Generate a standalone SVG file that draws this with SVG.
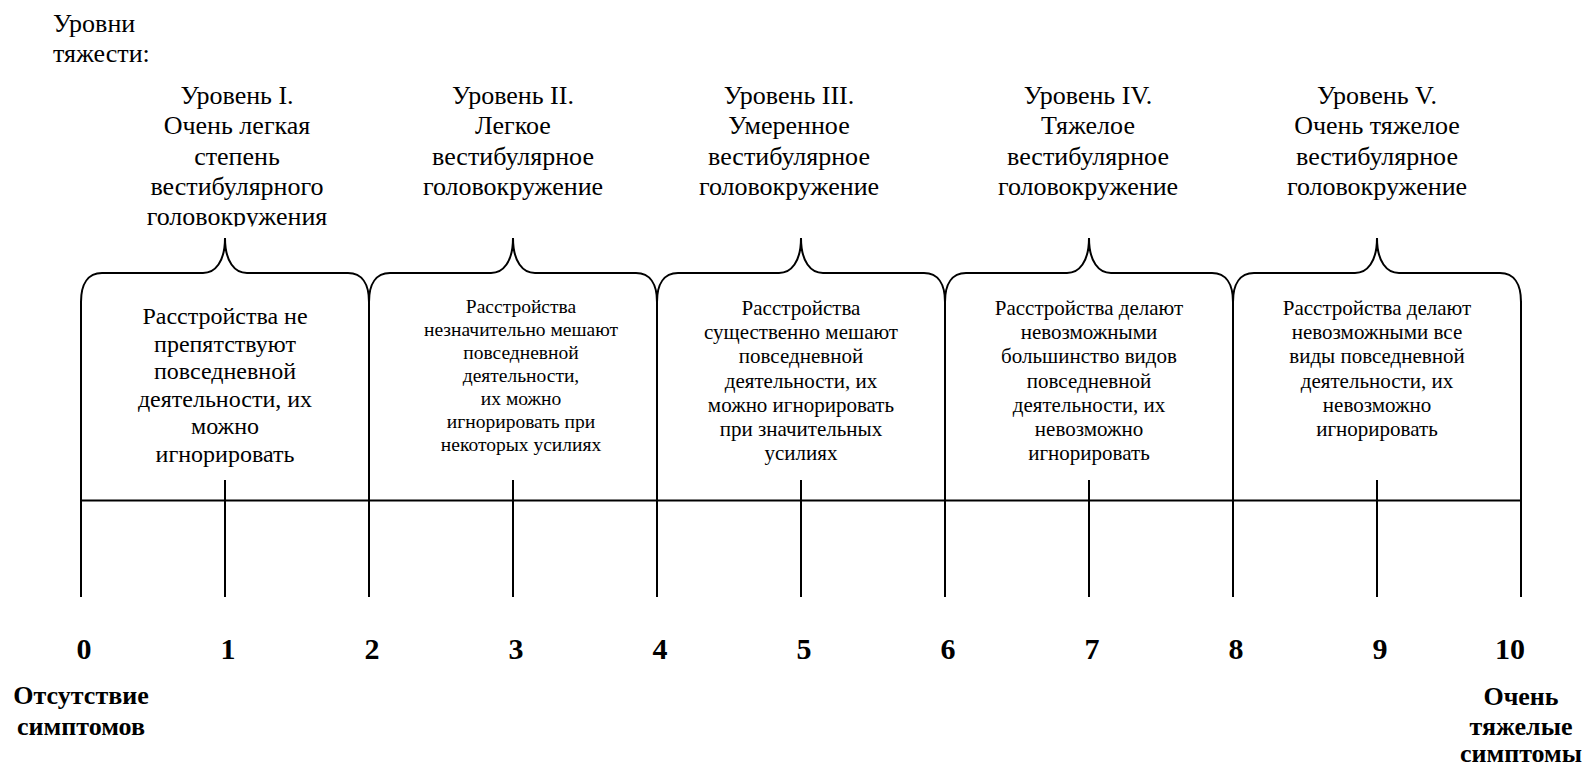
<svg xmlns="http://www.w3.org/2000/svg" width="1587" height="767" viewBox="0 0 1587 767">
<defs>
<style>
.t{font-family:"Liberation Serif","Times New Roman",serif;fill:#000}
.h{font-size:26px;text-anchor:middle}
.b1{font-size:24px;text-anchor:middle}
.b2{font-size:19.5px;text-anchor:middle}
.b3{font-size:21px;text-anchor:middle}
.num{font-size:30px;font-weight:bold;text-anchor:middle}
.lab{font-size:26px;font-weight:bold;text-anchor:middle}
.ln{fill:none;stroke:#000;stroke-width:2}
</style>
<clipPath id="clipH1"><rect x="100" y="70" width="300" height="156.5"/></clipPath>
</defs>
<rect width="1587" height="767" fill="#fff"/>

<text class="t" font-size="26" x="53" y="31.7">Уровни</text>
<text class="t" font-size="26" x="53" y="62">тяжести:</text>

<g id="level1">
<text class="t h" clip-path="url(#clipH1)"><tspan x="237" y="104">Уровень I.</tspan><tspan x="237" y="134.3">Очень легкая</tspan><tspan x="237" y="164.6">степень</tspan><tspan x="237" y="194.9">вестибулярного</tspan><tspan x="237" y="225.2">головокружения</tspan></text>
<path class="ln" d="M81,302 C81,284 88,273 102,273 H203 C215,273 225,262 225,238 C225,262 235,273 247,273 H348 C362,273 369,284 369,302"/>
<text class="t b1"><tspan x="225" y="324">Расстройства не</tspan><tspan x="225" y="351.5">препятствуют</tspan><tspan x="225" y="379">повседневной</tspan><tspan x="225" y="406.5">деятельности, их</tspan><tspan x="225" y="434">можно</tspan><tspan x="225" y="461.5">игнорировать</tspan></text>
</g>

<g id="level2">
<text class="t h"><tspan x="513" y="104">Уровень II.</tspan><tspan x="513" y="134.3">Легкое</tspan><tspan x="513" y="164.6">вестибулярное</tspan><tspan x="513" y="194.9">головокружение</tspan></text>
<path class="ln" d="M369,302 C369,284 376,273 390,273 H491 C503,273 513,262 513,238 C513,262 523,273 535,273 H636 C650,273 657,284 657,302"/>
<text class="t b2"><tspan x="521" y="313">Расстройства</tspan><tspan x="521" y="336">незначительно мешают</tspan><tspan x="521" y="359">повседневной</tspan><tspan x="521" y="382">деятельности,</tspan><tspan x="521" y="405">их можно</tspan><tspan x="521" y="428">игнорировать при</tspan><tspan x="521" y="451">некоторых усилиях</tspan></text>
</g>

<g id="level3">
<text class="t h"><tspan x="789" y="104">Уровень III.</tspan><tspan x="789" y="134.3">Умеренное</tspan><tspan x="789" y="164.6">вестибулярное</tspan><tspan x="789" y="194.9">головокружение</tspan></text>
<path class="ln" d="M657,302 C657,284 664,273 678,273 H779 C791,273 801,262 801,238 C801,262 811,273 823,273 H924 C938,273 945,284 945,302"/>
<text class="t b3"><tspan x="801" y="315">Расстройства</tspan><tspan x="801" y="339.2">существенно мешают</tspan><tspan x="801" y="363.4">повседневной</tspan><tspan x="801" y="387.6">деятельности, их</tspan><tspan x="801" y="411.8">можно игнорировать</tspan><tspan x="801" y="436">при значительных</tspan><tspan x="801" y="460.2">усилиях</tspan></text>
</g>

<g id="level4">
<text class="t h"><tspan x="1088" y="104">Уровень IV.</tspan><tspan x="1088" y="134.3">Тяжелое</tspan><tspan x="1088" y="164.6">вестибулярное</tspan><tspan x="1088" y="194.9">головокружение</tspan></text>
<path class="ln" d="M945,302 C945,284 952,273 966,273 H1067 C1079,273 1089,262 1089,238 C1089,262 1099,273 1111,273 H1212 C1226,273 1233,284 1233,302"/>
<text class="t b3"><tspan x="1089" y="315">Расстройства делают</tspan><tspan x="1089" y="339.2">невозможными</tspan><tspan x="1089" y="363.4">большинство видов</tspan><tspan x="1089" y="387.6">повседневной</tspan><tspan x="1089" y="411.8">деятельности, их</tspan><tspan x="1089" y="436">невозможно</tspan><tspan x="1089" y="460.2">игнорировать</tspan></text>
</g>

<g id="level5">
<text class="t h"><tspan x="1377" y="104">Уровень V.</tspan><tspan x="1377" y="134.3">Очень тяжелое</tspan><tspan x="1377" y="164.6">вестибулярное</tspan><tspan x="1377" y="194.9">головокружение</tspan></text>
<path class="ln" d="M1233,302 C1233,284 1240,273 1254,273 H1355 C1367,273 1377,262 1377,238 C1377,262 1387,273 1399,273 H1500 C1514,273 1521,284 1521,302"/>
<text class="t b3"><tspan x="1377" y="315">Расстройства делают</tspan><tspan x="1377" y="339.2">невозможными все</tspan><tspan x="1377" y="363.4">виды повседневной</tspan><tspan x="1377" y="387.6">деятельности, их</tspan><tspan x="1377" y="411.8">невозможно</tspan><tspan x="1377" y="436">игнорировать</tspan></text>
</g>

<g id="connectors">
<path class="ln" d="M81,500.5 H1521"/>
<path class="ln" d="M81,301 V597 M369,301 V597 M657,301 V597 M945,301 V597 M1233,301 V597 M1521,301 V597"/>
<path class="ln" d="M225,480 V597 M513,480 V597 M801,480 V597 M1089,480 V597 M1377,480 V597"/>
</g>

<g id="scale">
<text class="t num" x="84" y="659">0</text>
<text class="t num" x="228" y="659">1</text>
<text class="t num" x="372" y="659">2</text>
<text class="t num" x="516" y="659">3</text>
<text class="t num" x="660" y="659">4</text>
<text class="t num" x="804" y="659">5</text>
<text class="t num" x="948" y="659">6</text>
<text class="t num" x="1092" y="659">7</text>
<text class="t num" x="1236" y="659">8</text>
<text class="t num" x="1380" y="659">9</text>
<text class="t num" x="1510" y="659">10</text>
</g>

<g id="label-min">
<text class="t lab"><tspan x="81" y="704">Отсутствие</tspan><tspan x="81" y="735">симптомов</tspan></text>
</g>
<g id="label-max">
<text class="t lab"><tspan x="1521" y="705">Очень</tspan><tspan x="1521" y="734.5">тяжелые</tspan><tspan x="1521" y="762">симптомы</tspan></text>
</g>
</svg>
